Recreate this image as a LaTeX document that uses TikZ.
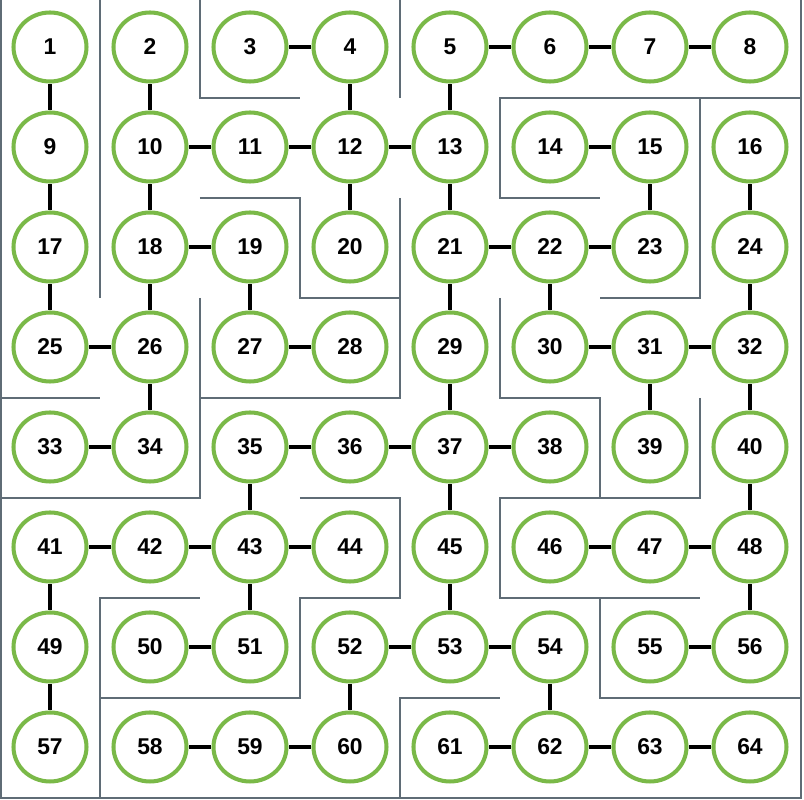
\documentclass[tikz,border=0pt]{standalone}
\usepackage{fontspec}
\usetikzlibrary{shapes.geometric}
\setmainfont{Liberation Sans}
\definecolor{mazegreen}{RGB}{122,185,72}
\definecolor{wallgray}{RGB}{95,108,118}
\tikzset{
  cell/.style={ellipse,draw=mazegreen,line width=1.15pt,fill=white,minimum width=0.73cm,minimum height=0.69cm,inner sep=0pt,font=\fontsize{6.5}{8}\selectfont\bfseries},
  link/.style={line width=1.35pt},
  wall/.style={wallgray,line width=0.6pt}
}
\begin{document}
\begin{tikzpicture}
\useasboundingbox (0,-0.02) rectangle (8.04,-8.02);

% maze walls
\draw[wall] (0.01,0) -- (0.01,-8) -- (8.01,-8) -- (8.01,0);
\draw[wall] (1,0) -- (1,-3);
\draw[wall] (2,0) -- (2,-1) -- (3,-1);
\draw[wall] (4,0) -- (4,-1);
\draw[wall] (2,-2) -- (3,-2) -- (3,-3) -- (4,-3);
\draw[wall] (4,-2) -- (4,-4) -- (2,-4);
\draw[wall] (2,-3) -- (2,-5) -- (0,-5);
\draw[wall] (0,-4) -- (1,-4);
\draw[wall] (8,-1) -- (5,-1) -- (5,-2) -- (6,-2);
\draw[wall] (7,-1) -- (7,-3) -- (6,-3);
\draw[wall] (5,-3) -- (5,-4) -- (6,-4) -- (6,-5);
\draw[wall] (7,-4) -- (7,-5) -- (5,-5) -- (5,-6) -- (7,-6);
\draw[wall] (6,-6) -- (6,-7) -- (8,-7);
\draw[wall] (4,-8) -- (4,-7) -- (5,-7);
\draw[wall] (3,-5) -- (4,-5) -- (4,-6) -- (3,-6) -- (3,-7) -- (1,-7);
\draw[wall] (2,-6) -- (1,-6) -- (1,-8);

% cells
\foreach \r in {0,...,7}
  \foreach \c in {0,...,7} {
    \pgfmathtruncatemacro\k{8*\r+\c+1}
    \node[cell] (n\k) at (\c+0.5,-\r-0.49) {\k};
  }

% spanning tree
\draw[link] (n1) -- (n9) -- (n17) -- (n25) -- (n26) -- (n34) -- (n33);
\draw[link] (n26) -- (n18) -- (n10) -- (n2);
\draw[link] (n18) -- (n19) -- (n27) -- (n28);
\draw[link] (n10) -- (n11) -- (n12) -- (n4) -- (n3);
\draw[link] (n12) -- (n20);
\draw[link] (n12) -- (n13) -- (n5) -- (n6) -- (n7) -- (n8);
\draw[link] (n13) -- (n21) -- (n29) -- (n37) -- (n45) -- (n53) -- (n54) -- (n62) -- (n63) -- (n64);
\draw[link] (n21) -- (n22) -- (n23) -- (n15) -- (n14);
\draw[link] (n22) -- (n30) -- (n31) -- (n32) -- (n24) -- (n16);
\draw[link] (n31) -- (n39);
\draw[link] (n32) -- (n40) -- (n48) -- (n56) -- (n55);
\draw[link] (n48) -- (n47) -- (n46);
\draw[link] (n37) -- (n38);
\draw[link] (n37) -- (n36) -- (n35) -- (n43) -- (n44);
\draw[link] (n43) -- (n42) -- (n41) -- (n49) -- (n57);
\draw[link] (n43) -- (n51) -- (n50);
\draw[link] (n53) -- (n52) -- (n60) -- (n59) -- (n58);
\draw[link] (n62) -- (n61);
\end{tikzpicture}
\end{document}
